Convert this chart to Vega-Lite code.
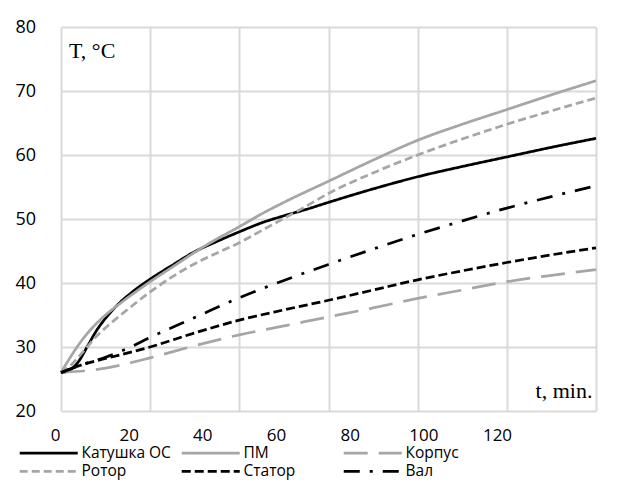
{
  "$schema": "https://vega.github.io/schema/vega-lite/v6.json",
  "width": 535,
  "height": 384,
  "autosize": {"type": "none"},
  "padding": {"left": 61, "top": 27, "right": 31, "bottom": 88},
  "background": "white",
  "config": {"view": {"stroke": null}, "font": "Open Sans"},
  "data": {"values": [
    {"s": "Катушка ОС", "t": 0, "T": 26}, {"s": "Катушка ОС", "t": 2, "T": 26.4}, {"s": "Катушка ОС", "t": 4, "T": 27.8}, {"s": "Катушка ОС", "t": 6, "T": 30.2}, {"s": "Катушка ОС", "t": 8, "T": 32.6}, {"s": "Катушка ОС", "t": 10, "T": 34.5}, {"s": "Катушка ОС", "t": 13, "T": 36.8}, {"s": "Катушка ОС", "t": 16, "T": 38.6}, {"s": "Катушка ОС", "t": 20, "T": 40.6}, {"s": "Катушка ОС", "t": 25, "T": 42.8}, {"s": "Катушка ОС", "t": 30, "T": 44.9}, {"s": "Катушка ОС", "t": 35, "T": 46.5}, {"s": "Катушка ОС", "t": 40, "T": 48.0}, {"s": "Катушка ОС", "t": 45, "T": 49.4}, {"s": "Катушка ОС", "t": 50, "T": 50.5}, {"s": "Катушка ОС", "t": 55, "T": 51.5}, {"s": "Катушка ОС", "t": 60, "T": 52.6}, {"s": "Катушка ОС", "t": 70, "T": 54.7}, {"s": "Катушка ОС", "t": 80, "T": 56.6}, {"s": "Катушка ОС", "t": 90, "T": 58.2}, {"s": "Катушка ОС", "t": 100, "T": 59.7}, {"s": "Катушка ОС", "t": 110, "T": 61.2}, {"s": "Катушка ОС", "t": 120, "T": 62.6},
    {"s": "ПМ", "t": 0, "T": 26}, {"s": "ПМ", "t": 2, "T": 28.3}, {"s": "ПМ", "t": 4, "T": 30.4}, {"s": "ПМ", "t": 6, "T": 32.2}, {"s": "ПМ", "t": 8, "T": 33.7}, {"s": "ПМ", "t": 10, "T": 35.0}, {"s": "ПМ", "t": 14, "T": 37.2}, {"s": "ПМ", "t": 20, "T": 40.2}, {"s": "ПМ", "t": 25, "T": 42.5}, {"s": "ПМ", "t": 30, "T": 44.8}, {"s": "ПМ", "t": 35, "T": 46.9}, {"s": "ПМ", "t": 40, "T": 48.8}, {"s": "ПМ", "t": 45, "T": 50.8}, {"s": "ПМ", "t": 50, "T": 52.6}, {"s": "ПМ", "t": 60, "T": 55.9}, {"s": "ПМ", "t": 70, "T": 59.2}, {"s": "ПМ", "t": 80, "T": 62.3}, {"s": "ПМ", "t": 90, "T": 64.8}, {"s": "ПМ", "t": 100, "T": 67.1}, {"s": "ПМ", "t": 110, "T": 69.4}, {"s": "ПМ", "t": 120, "T": 71.6},
    {"s": "Корпус", "t": 0, "T": 26}, {"s": "Корпус", "t": 10, "T": 26.7}, {"s": "Корпус", "t": 20, "T": 28.3}, {"s": "Корпус", "t": 30, "T": 30.2}, {"s": "Корпус", "t": 40, "T": 31.9}, {"s": "Корпус", "t": 50, "T": 33.3}, {"s": "Корпус", "t": 60, "T": 34.7}, {"s": "Корпус", "t": 70, "T": 36.1}, {"s": "Корпус", "t": 80, "T": 37.6}, {"s": "Корпус", "t": 90, "T": 38.9}, {"s": "Корпус", "t": 100, "T": 40.2}, {"s": "Корпус", "t": 110, "T": 41.2}, {"s": "Корпус", "t": 120, "T": 42.1},
    {"s": "Ротор", "t": 0, "T": 26}, {"s": "Ротор", "t": 2, "T": 27.0}, {"s": "Ротор", "t": 4, "T": 28.5}, {"s": "Ротор", "t": 6, "T": 30.1}, {"s": "Ротор", "t": 8, "T": 31.7}, {"s": "Ротор", "t": 10, "T": 33.0}, {"s": "Ротор", "t": 12, "T": 34.2}, {"s": "Ротор", "t": 15, "T": 35.9}, {"s": "Ротор", "t": 20, "T": 38.6}, {"s": "Ротор", "t": 25, "T": 41.0}, {"s": "Ротор", "t": 30, "T": 43.0}, {"s": "Ротор", "t": 35, "T": 44.7}, {"s": "Ротор", "t": 40, "T": 46.3}, {"s": "Ротор", "t": 45, "T": 48.2}, {"s": "Ротор", "t": 50, "T": 50.1}, {"s": "Ротор", "t": 55, "T": 52.0}, {"s": "Ротор", "t": 60, "T": 54.0}, {"s": "Ротор", "t": 70, "T": 57.2}, {"s": "Ротор", "t": 80, "T": 60.0}, {"s": "Ротор", "t": 90, "T": 62.5}, {"s": "Ротор", "t": 100, "T": 64.8}, {"s": "Ротор", "t": 110, "T": 66.9}, {"s": "Ротор", "t": 120, "T": 68.9},
    {"s": "Статор", "t": 0, "T": 26}, {"s": "Статор", "t": 5, "T": 27.3}, {"s": "Статор", "t": 10, "T": 28.2}, {"s": "Статор", "t": 20, "T": 30.0}, {"s": "Статор", "t": 30, "T": 32.2}, {"s": "Статор", "t": 40, "T": 34.2}, {"s": "Статор", "t": 50, "T": 35.8}, {"s": "Статор", "t": 60, "T": 37.3}, {"s": "Статор", "t": 70, "T": 38.9}, {"s": "Статор", "t": 80, "T": 40.5}, {"s": "Статор", "t": 90, "T": 41.9}, {"s": "Статор", "t": 100, "T": 43.2}, {"s": "Статор", "t": 110, "T": 44.4}, {"s": "Статор", "t": 120, "T": 45.5},
    {"s": "Вал", "t": 0, "T": 26}, {"s": "Вал", "t": 5, "T": 27.3}, {"s": "Вал", "t": 10, "T": 28.4}, {"s": "Вал", "t": 15, "T": 29.8}, {"s": "Вал", "t": 20, "T": 31.5}, {"s": "Вал", "t": 30, "T": 34.6}, {"s": "Вал", "t": 40, "T": 37.7}, {"s": "Вал", "t": 50, "T": 40.4}, {"s": "Вал", "t": 60, "T": 42.9}, {"s": "Вал", "t": 70, "T": 45.3}, {"s": "Вал", "t": 80, "T": 47.6}, {"s": "Вал", "t": 90, "T": 49.7}, {"s": "Вал", "t": 100, "T": 51.7}, {"s": "Вал", "t": 110, "T": 53.5}, {"s": "Вал", "t": 120, "T": 55.2}
  ]},
  "layer": [
    {
      "layer": [
        {
          "mark": {"type": "line", "interpolate": "monotone", "strokeWidth": 2.75},
          "encoding": {
            "x": {"field": "t", "type": "quantitative", "scale": {"domain": [0, 120], "nice": false, "zero": false},
              "axis": {"orient": "bottom", "values": [0, 20, 40, 60, 80, 100, 120], "grid": true, "gridColor": "#d9d9d9", "gridWidth": 2, "labels": false, "ticks": false, "domain": false, "title": null}},
            "y": {"field": "T", "type": "quantitative", "scale": {"domain": [20, 80], "nice": false, "zero": false},
              "axis": {"values": [20, 30, 40, 50, 60, 70, 80], "grid": true, "gridColor": "#d9d9d9", "gridWidth": 2, "ticks": false, "tickSize": 0, "domain": false, "labelAlign": "left", "labelBaseline": "middle", "labelPadding": 46, "labelFontSize": 18, "labelFont": "Open Sans", "labelColor": "#000000", "title": null}},
            "color": {"field": "s", "type": "nominal",
              "scale": {"domain": ["Катушка ОС", "ПМ", "Корпус", "Ротор", "Статор", "Вал"], "range": ["#000000", "#a6a6a6", "#a6a6a6", "#a6a6a6", "#000000", "#000000"]},
              "legend": {"title": null, "orient": "none", "legendX": -20, "legendY": 418, "columns": 3, "direction": "horizontal", "symbolType": "M-5,0H5", "symbolSize": 134.6, "symbolStrokeWidth": 2.75, "labelFontSize": 15.5, "labelFont": "Open Sans", "labelColor": "#000000", "labelOffset": 25, "rowPadding": 1.5, "columnPadding": 5, "gridAlign": "all"}},
            "strokeDash": {"field": "s", "type": "nominal",
              "scale": {"domain": ["Катушка ОС", "ПМ", "Корпус", "Ротор", "Статор", "Вал"], "range": [[1, 0], [1, 0], [24, 11], [8, 4], [9, 4], [16, 10, 3, 10]]}}
          }
        },
        {
          "data": {"values": [{"label": "T, °C"}]},
          "mark": {"type": "text", "font": "Liberation Serif", "fontSize": 22, "align": "left", "baseline": "middle", "color": "#000000"},
          "encoding": {"x": {"datum": 1.8}, "y": {"datum": 76.3}, "text": {"field": "label"}}
        },
        {
          "data": {"values": [{"label": "t, min."}]},
          "mark": {"type": "text", "font": "Liberation Serif", "fontSize": 22, "align": "right", "baseline": "middle", "color": "#000000"},
          "encoding": {"x": {"datum": 119.2}, "y": {"datum": 23.1}, "text": {"field": "label"}}
        }
      ]
    },
    {
      "mark": {"type": "point", "opacity": 0},
      "encoding": {
        "x": {"field": "t", "type": "quantitative", "scale": {"domain": [0, 120], "range": [-6, 436], "nice": false, "zero": false},
          "axis": {"orient": "bottom", "values": [0, 20, 40, 60, 80, 100, 120], "grid": false, "ticks": false, "domain": false, "labelFlush": false, "labelFontSize": 17, "labelFont": "Open Sans", "labelPadding": 16, "labelColor": "#000000", "title": null}},
        "y": {"field": "T", "type": "quantitative"}
      }
    }
  ],
  "resolve": {"scale": {"x": "independent"}}
}
